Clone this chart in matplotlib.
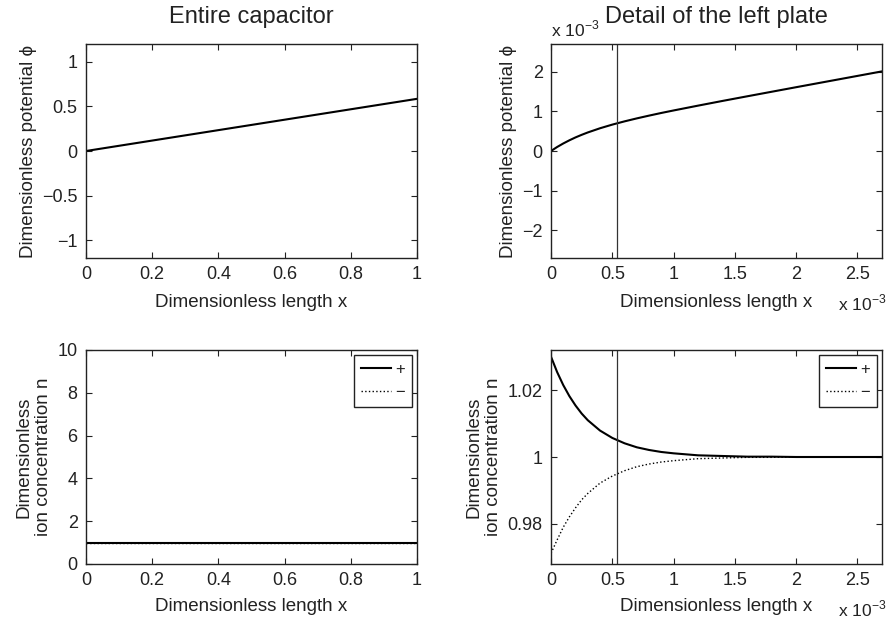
import numpy as np
import matplotlib
matplotlib.use('Agg')
import matplotlib.pyplot as plt
from matplotlib.ticker import FuncFormatter

plt.rcParams['font.family'] = ['Liberation Sans', 'DejaVu Sans']
plt.rcParams['text.color'] = '#222222'
plt.rcParams['axes.labelcolor'] = '#222222'
plt.rcParams['xtick.color'] = '#222222'
plt.rcParams['ytick.color'] = '#222222'
plt.rcParams['mathtext.fontset'] = 'custom'
plt.rcParams['mathtext.rm'] = 'Liberation Sans'

# whole capacitor, x in [0, 1]
x_full = [0.0, 1.0]
phi_full = [0.0, 0.585]
n_plus_full = [1.0, 1.0]
n_minus_full = [1.0, 1.0]

# left plate detail, x and phi in units of 1e-3
x_det = [0, 0.05, 0.1, 0.15, 0.2, 0.25, 0.3, 0.4, 0.5, 0.6, 0.7, 0.8, 0.9,
         1.0, 1.2, 1.4, 1.6, 1.8, 2.0, 2.2, 2.4, 2.7]
phi_det = [0, 0.101, 0.190, 0.270, 0.343, 0.408, 0.468, 0.574, 0.666, 0.748,
           0.823, 0.893, 0.960, 1.023, 1.145, 1.264, 1.380, 1.495, 1.610,
           1.724, 1.838, 2.009]
n_plus_det = [1.0300, 1.0254, 1.0215, 1.0182, 1.0154, 1.0130, 1.0110, 1.0079,
              1.0057, 1.0041, 1.0029, 1.0021, 1.0015, 1.0011, 1.0005, 1.0003,
              1.0001, 1.0001, 1.0, 1.0, 1.0, 1.0]
n_minus_det = [0.9712, 0.9752, 0.9790, 0.9821, 0.9848, 0.9872, 0.9891, 0.9922,
               0.9943, 0.9959, 0.9971, 0.9979, 0.9985, 0.9989, 0.9995, 0.9997,
               0.9999, 0.9999, 1.0, 1.0, 1.0, 1.0]
x_debye = 0.54

fmt = FuncFormatter(lambda v, p: ('%g' % v).replace('-', '\u2212'))

fig = plt.figure(figsize=(8.89, 6.21), dpi=100)
W, H = 889, 621

def make_ax(l, t, r, b):
    ax = fig.add_axes([l / W, 1 - b / H, (r - l) / W, (b - t) / H])
    ax.tick_params(direction='in', top=True, right=True, length=4,
                   labelsize=13, width=0.8, pad=6)
    for s in ax.spines.values():
        s.set_linewidth(1.0)
        s.set_color('#222222')
    ax.xaxis.set_major_formatter(fmt)
    ax.yaxis.set_major_formatter(fmt)
    return ax

ax1 = make_ax(86, 44, 417, 258)
ax2 = make_ax(551, 44, 882, 258)
ax3 = make_ax(86, 350, 417, 564)
ax4 = make_ax(551, 350, 882, 564)

def x_exponent(ax):
    ax.text(0.868, -0.245, r'x 10$^{-3}$', transform=ax.transAxes,
            fontsize=12.5, ha='left', va='baseline')

# potential, whole capacitor
ax1.plot(x_full, phi_full, 'k-', lw=1.5)
ax1.set_xlim(0, 1)
ax1.set_ylim(-1.2, 1.2)
ax1.set_xticks(np.arange(0, 1.01, 0.2))
ax1.set_yticks([-1, -0.5, 0, 0.5, 1])
ax1.set_title('Entire capacitor', fontsize=17, pad=15)
ax1.set_xlabel('Dimensionless length x', fontsize=13.5, labelpad=8)
ax1.set_ylabel('Dimensionless potential \u03d5', fontsize=13.5)

# potential, detail
ax2.plot(x_det, phi_det, 'k-', lw=1.5)
ax2.axvline(x_debye, color='#333333', lw=0.9)
ax2.set_xlim(0, 2.7)
ax2.set_ylim(-2.7, 2.7)
ax2.set_xticks(np.arange(0, 2.6, 0.5))
ax2.set_yticks([-2, -1, 0, 1, 2])
ax2.set_title('Detail of the left plate', fontsize=17, pad=15)
ax2.set_xlabel('Dimensionless length x', fontsize=13.5, labelpad=8)
ax2.set_ylabel('Dimensionless potential \u03d5', fontsize=13.5)
ax2.text(0.0, 1.02, r'x 10$^{-3}$', transform=ax2.transAxes, fontsize=12.5,
         ha='left', va='bottom')
x_exponent(ax2)

# concentrations, whole capacitor
ax3.plot(x_full, n_plus_full, 'k-', lw=1.5, label='+')
ax3.plot(x_full, n_minus_full, 'k:', lw=1.0, label='\u2212')
ax3.set_xlim(0, 1)
ax3.set_ylim(0, 10)
ax3.set_xticks(np.arange(0, 1.01, 0.2))
ax3.set_yticks(np.arange(0, 11, 2))
ax3.set_xlabel('Dimensionless length x', fontsize=13.5, labelpad=6)
ax3.set_ylabel('Dimensionless\nion concentration n', fontsize=13.5)

# concentrations, detail
ax4.plot(x_det, n_plus_det, 'k-', lw=1.5, label='+')
ax4.plot(x_det, n_minus_det, 'k:', lw=1.0, label='\u2212')
ax4.axvline(x_debye, color='#333333', lw=0.9)
ax4.set_xlim(0, 2.7)
ax4.set_ylim(0.968, 1.032)
ax4.set_xticks(np.arange(0, 2.6, 0.5))
ax4.set_yticks([0.98, 1.0, 1.02])
ax4.set_xlabel('Dimensionless length x', fontsize=13.5, labelpad=6)
ax4.set_ylabel('Dimensionless\nion concentration n', fontsize=13.5)
x_exponent(ax4)

for ax in (ax3, ax4):
    leg = ax.legend(loc='upper right', fontsize=12, fancybox=False,
                    framealpha=1, edgecolor='#222222', borderaxespad=0.3,
                    handlelength=1.8, borderpad=0.4, labelspacing=0.5,
                    handletextpad=0.3)
    leg.get_frame().set_linewidth(1.0)

fig.savefig('out.png', dpi=100)
